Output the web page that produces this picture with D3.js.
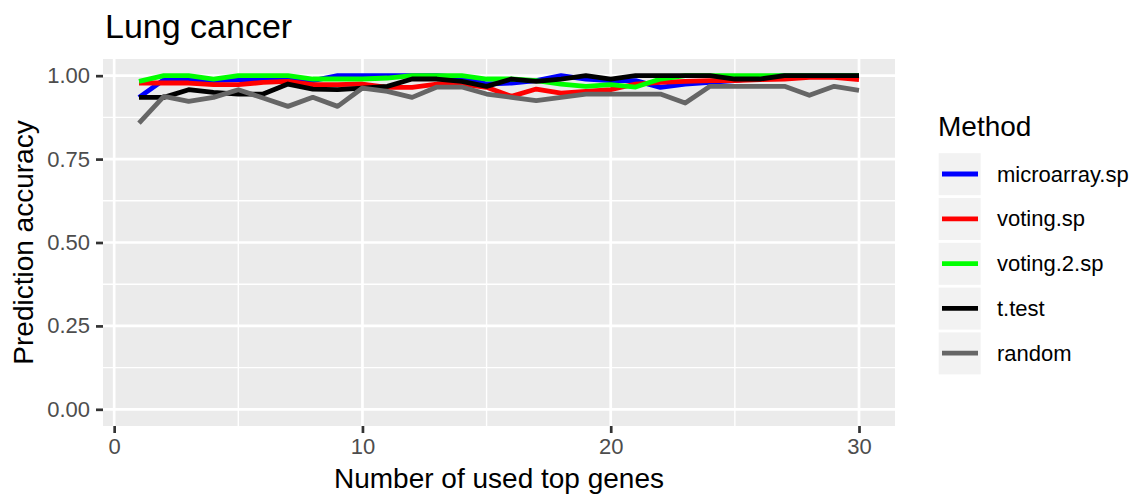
<!DOCTYPE html>
<html>
<head>
<meta charset="utf-8">
<script src="https://d3js.org/d3.v7.min.js"></script>
<style>
  body { margin: 0; background: #fff; font-family: 'Liberation Sans', Arial, sans-serif; }
</style>
</head>
<body>
<svg id="chart" width="1135" height="496"></svg>
<script>
// number of top genes used
var genes = d3.range(1, 31);

var methods = ["microarray.sp", "voting.sp", "voting.2.sp", "t.test", "random"];
var colors = ["#0000ff", "#ff0000", "#00ff00", "#000000", "#666666"];

// prediction accuracy per method
var microarraySp = [0.935, 0.988, 0.988, 0.985, 0.988, 0.988, 0.988, 0.985, 1.0, 1.0,
                    1.0, 1.0, 1.0, 0.995, 0.975, 0.978, 0.985, 1.0, 0.99, 0.985,
                    0.985, 0.965, 0.975, 0.98, 0.985, 0.995, 1.0, 1.0, 1.0, 1.0];
var votingSp = [0.978, 0.978, 0.978, 0.973, 0.973, 0.98, 0.983, 0.973, 0.973, 0.975,
                0.965, 0.965, 0.975, 0.975, 0.965, 0.938, 0.96, 0.948, 0.953, 0.958,
                0.975, 0.98, 0.983, 0.985, 0.985, 0.988, 0.99, 0.995, 0.995, 0.988];
var voting2Sp = [0.983, 1.0, 1.0, 0.99, 1.0, 1.0, 1.0, 0.99, 0.99, 0.99,
                 0.993, 1.0, 1.0, 1.0, 0.99, 0.99, 0.985, 0.975, 0.968, 0.973,
                 0.966, 0.99, 1.0, 1.0, 1.0, 1.0, 1.0, 1.0, 1.0, 1.0];
var tTest = [0.935, 0.935, 0.958, 0.95, 0.945, 0.945, 0.975, 0.96, 0.958, 0.963,
             0.968, 0.99, 0.99, 0.983, 0.968, 0.99, 0.983, 0.99, 1.0, 0.99,
             1.0, 1.0, 1.0, 1.0, 0.99, 0.99, 1.0, 1.0, 1.0, 1.0];
var random = [0.858, 0.938, 0.923, 0.935, 0.958, 0.933, 0.908, 0.935, 0.908, 0.963,
              0.953, 0.935, 0.966, 0.966, 0.945, 0.935, 0.925, 0.935, 0.945, 0.945,
              0.945, 0.945, 0.918, 0.968, 0.968, 0.968, 0.968, 0.941, 0.968, 0.956];

var xTicks = [0, 10, 20, 30];
var yTicks = [0, 0.25, 0.5, 0.75, 1.0];

var seriesValues = [microarraySp, votingSp, voting2Sp, tTest, random];

var svg = d3.select("#chart");
var panel = {left: 103, right: 895, top: 59, bottom: 426};

// ggplot style 5% expansion
var x = d3.scaleLinear().domain([1 - 1.45, 30 + 1.45]).range([panel.left, panel.right]);
var y = d3.scaleLinear().domain([-0.05, 1.05]).range([panel.bottom, panel.top]);

// panel background
svg.append("rect")
  .attr("x", panel.left).attr("y", panel.top)
  .attr("width", panel.right - panel.left).attr("height", panel.bottom - panel.top)
  .attr("fill", "#ebebeb");

// minor grid
var grid = svg.append("g");
[5, 15, 25].forEach(function(v) {
  grid.append("line").attr("x1", x(v)).attr("x2", x(v))
    .attr("y1", panel.top).attr("y2", panel.bottom)
    .attr("stroke", "#fff").attr("stroke-width", 1.4);
});
[0.125, 0.375, 0.625, 0.875].forEach(function(v) {
  grid.append("line").attr("x1", panel.left).attr("x2", panel.right)
    .attr("y1", y(v)).attr("y2", y(v))
    .attr("stroke", "#fff").attr("stroke-width", 1.4);
});
// major grid
xTicks.forEach(function(v) {
  grid.append("line").attr("x1", x(v)).attr("x2", x(v))
    .attr("y1", panel.top).attr("y2", panel.bottom)
    .attr("stroke", "#fff").attr("stroke-width", 2.7);
});
yTicks.forEach(function(v) {
  grid.append("line").attr("x1", panel.left).attr("x2", panel.right)
    .attr("y1", y(v)).attr("y2", y(v))
    .attr("stroke", "#fff").attr("stroke-width", 2.7);
});

// lines
var line = d3.line()
  .x(function(d, i) { return x(genes[i]); })
  .y(function(d) { return y(d); });

svg.append("g").selectAll("path")
  .data(seriesValues)
  .enter().append("path")
    .attr("d", line)
    .attr("fill", "none")
    .attr("stroke", function(d, i) { return colors[i]; })
    .attr("stroke-width", 4.8)
    .attr("stroke-linejoin", "round");

// axes
var xAxis = svg.append("g")
  .attr("transform", "translate(0," + panel.bottom + ")")
  .call(d3.axisBottom(x).tickValues(xTicks).tickSize(7).tickPadding(5).tickFormat(d3.format("d")));
var yAxis = svg.append("g")
  .attr("transform", "translate(" + panel.left + ",0)")
  .call(d3.axisLeft(y).tickValues(yTicks).tickSize(7).tickPadding(6).tickFormat(d3.format(".2f")));

[xAxis, yAxis].forEach(function(a) {
  a.select(".domain").remove();
  a.selectAll(".tick line").attr("stroke", "#333").attr("stroke-width", 2.7);
  a.selectAll(".tick text")
    .attr("fill", "#4d4d4d")
    .style("font-family", "'Liberation Sans', Arial, sans-serif")
    .style("font-size", "22px");
});
xAxis.selectAll(".tick text").attr("dy", "0.71em");

// titles
svg.append("text")
  .attr("x", 105).attr("y", 38)
  .style("font-size", "34px")
  .attr("fill", "#000")
  .text("Lung cancer");

svg.append("text")
  .attr("x", (panel.left + panel.right) / 2).attr("y", 488)
  .attr("text-anchor", "middle")
  .style("font-size", "28px")
  .text("Number of used top genes");

svg.append("text")
  .attr("transform", "translate(33," + ((panel.top + panel.bottom) / 2) + ") rotate(-90)")
  .attr("text-anchor", "middle")
  .style("font-size", "28px")
  .text("Prediction accuracy");

// legend
var legend = svg.append("g");
legend.append("text")
  .attr("x", 938).attr("y", 136)
  .style("font-size", "28px")
  .text("Method");

var items = legend.selectAll("g.item")
  .data(methods)
  .enter().append("g")
    .attr("class", "item")
    .attr("transform", function(d, i) { return "translate(938," + (152.5 + i * 44.8) + ")"; });

items.append("rect")
  .attr("x", 0.7).attr("y", 0.7)
  .attr("width", 42).attr("height", 42)
  .attr("fill", "#f2f2f2");

items.append("line")
  .attr("x1", 4).attr("x2", 40)
  .attr("y1", 21.5).attr("y2", 21.5)
  .attr("stroke", function(d, i) { return colors[i]; })
  .attr("stroke-width", 4.8);

items.append("text")
  .attr("x", 59).attr("y", 21.5)
  .attr("dy", "0.35em")
  .style("font-size", "22px")
  .text(function(d) { return d; });
</script>
</body>
</html>
